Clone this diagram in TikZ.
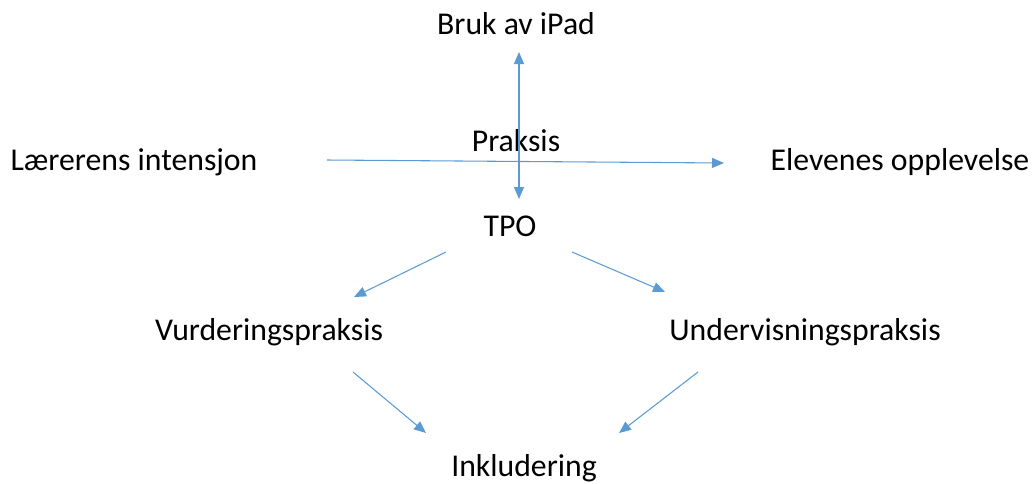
\documentclass[tikz,border=0pt]{standalone}
\usepackage{fontspec}
\setmainfont{Carlito}
\usetikzlibrary{arrows.meta}
\definecolor{pil}{RGB}{91,155,213}
\tikzset{
  lbl/.style={font=\fontsize{23.8pt}{28pt}\selectfont, inner sep=0pt},
  spiss/.style={Triangle[length=9pt,width=7.5pt]},
  pilen/.style={pil, line width=0.8pt, -{Triangle[length=9pt,width=7.5pt]}}
}
\begin{document}
\begin{tikzpicture}[x=0.75pt,y=-0.75pt]
\useasboundingbox (0,0) rectangle (1032,483);
% tekster
\node[lbl] (ipad) at (516,24) {Bruk av iPad};
\node[lbl] (praksis) at (516,141) {Praksis};
\node[lbl] (laerer) at (134,162) {Lærerens intensjon};
\node[lbl] (elev) at (900,162) {Elevenes opplevelse};
\node[lbl] (tpo) at (510,226) {TPO};
\node[lbl] (vurd) at (269,332) {Vurderingspraksis};
\node[lbl] (underv) at (805,332) {Undervisningspraksis};
\node[lbl] (inkl) at (524,468) {Inkludering};
% endepunkter for pilene
\coordinate (v1) at (519,199);
\coordinate (v2) at (519,52);
\coordinate (h1) at (327,160);
\coordinate (h2) at (724,163);
\coordinate (a1) at (446,252);
\coordinate (a2) at (354,297);
\coordinate (b1) at (572,252);
\coordinate (b2) at (665,292);
\coordinate (c1) at (353,372);
\coordinate (c2) at (426,433);
\coordinate (d1) at (698,372);
\coordinate (d2) at (619,433);
% piler
\draw [pilen, {Triangle[length=9pt,width=7.5pt]}-{Triangle[length=9pt,width=7.5pt]}] (v1) -- (v2);
\draw [pilen] (h1) -- (h2);
\draw [pilen] (a1) -- (a2);
\draw [pilen] (b1) -- (b2);
\draw [pilen] (c1) -- (c2);
\draw [pilen] (d1) -- (d2);
\end{tikzpicture}
\end{document}
